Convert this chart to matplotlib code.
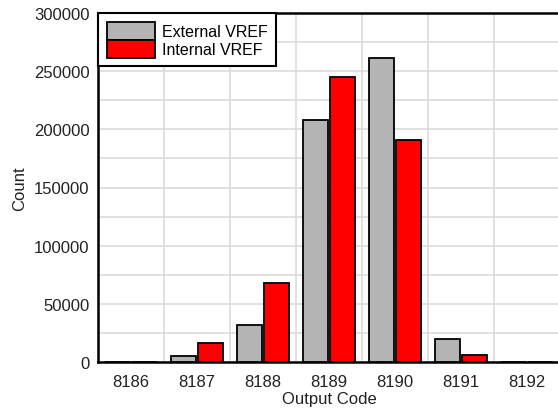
import numpy as np
import matplotlib.pyplot as plt
from matplotlib.ticker import MultipleLocator

plt.rcParams['font.family'] = ['Liberation Sans', 'DejaVu Sans']

codes = [8186, 8187, 8188, 8189, 8190, 8191, 8192]
external = [300, 4800, 32000, 208000, 261500, 20000, 400]
internal = [100, 16000, 68000, 245000, 191000, 6300, 100]

fig = plt.figure(figsize=(5.58, 4.10), dpi=100)
ax = fig.add_axes([98/558, 1 - 363/410, 462/558, 349/410])

x = np.array(codes)
w = 0.38
ax.bar(x - 0.21, external, width=w, color='#b4b4b4', edgecolor='black', linewidth=1.3,
       label='External VREF', zorder=3)
ax.bar(x + 0.21, internal, width=w, color='#ff0000', edgecolor='black', linewidth=1.3,
       label='Internal VREF', zorder=3)

ax.set_xlim(8185.5, 8192.5)
ax.set_ylim(0, 300000)
ax.set_xticks(codes)
ax.set_xticklabels([str(c) for c in codes])
ax.yaxis.set_major_locator(MultipleLocator(50000))
ax.yaxis.set_minor_locator(MultipleLocator(25000))
ax.set_xticks(np.arange(8185.5, 8193, 1), minor=True)
ax.grid(True, which='minor', color='#dcdcdc', linewidth=1.2, zorder=0)
ax.grid(True, which='major', axis='y', color='#dcdcdc', linewidth=1.2, zorder=0)
ax.tick_params(which='both', length=0, labelsize=12, labelcolor='#222222')
ax.tick_params(axis='x', pad=9)
ax.tick_params(axis='y', pad=6)

for s in ['left', 'bottom', 'top']:
    ax.spines[s].set_linewidth(1.8)
ax.spines['right'].set_visible(False)

ax.set_xlabel('Output Code', fontsize=12, labelpad=1, color='#222222')
ax.set_ylabel('Count', fontsize=12, labelpad=5, color='#222222')

leg = ax.legend(loc='upper left', bbox_to_anchor=(0, 1), borderaxespad=0, fancybox=False,
                fontsize=11.5, handlelength=3.0, handleheight=1.35, labelspacing=0,
                handletextpad=0.44, borderpad=0.55, framealpha=1)
leg.get_frame().set_edgecolor('black')
leg.get_frame().set_linewidth(1.5)

fig.savefig('out.png')
